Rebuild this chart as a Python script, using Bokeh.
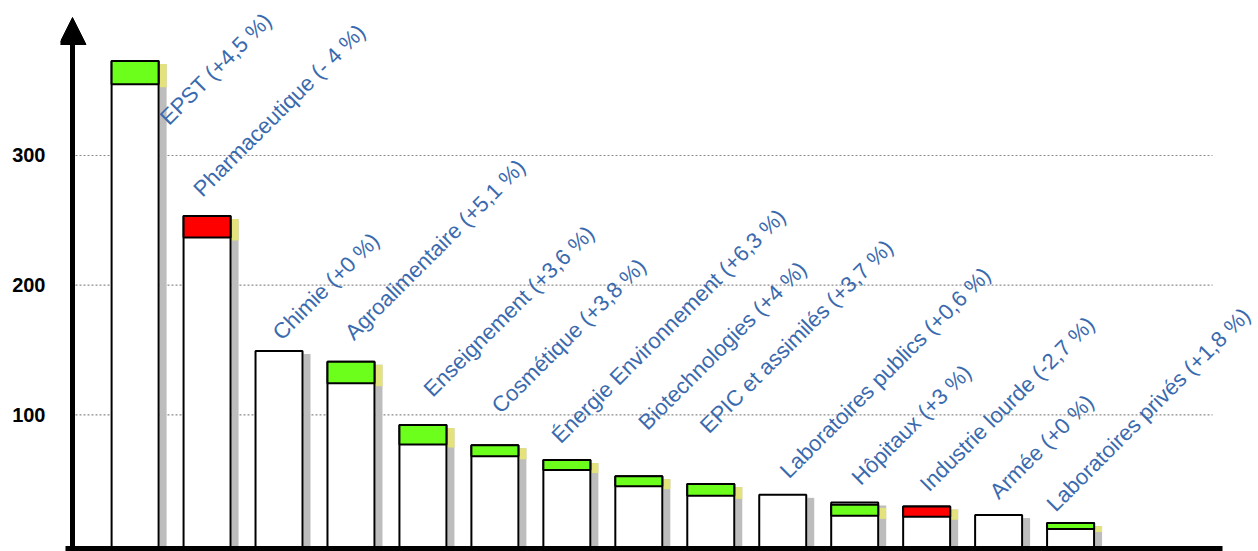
import math
from bokeh.plotting import figure
from bokeh.models import Range1d, FixedTicker, Arrow, NormalHead
from bokeh.embed import file_html
from bokeh.resources import INLINE
from bokeh.core.properties import value

# ---------------- data ----------------
categories = ["EPST", "Pharmaceutique", "Chimie", "Agroalimentaire", "Enseignement",
              "Cosmétique", "Énergie Environnement", "Biotechnologies", "EPIC et assimilés",
              "Laboratoires publics", "Hôpitaux", "Industrie lourde", "Armée",
              "Laboratoires privés"]
changes = ["+4,5 %", "- 4 %", "+0 %", "+5,1 %", "+3,6 %", "+3,8 %", "+6,3 %", "+4 %",
           "+3,7 %", "+0,6 %", "+3 %", "-2,7 %", "+0 %", "+1,8 %"]
totals = [372.9, 253.4, 149.3, 140.9, 92.1, 76.6, 65.1, 52.7, 46.6, 38.3, 32.4, 29.3, 22.7, 16.5]
seg_low = [355.0, 236.7, 149.3, 124.4, 77.1, 68.0, 57.4, 45.0, 37.5, 38.3, 22.1, 21.4, 22.7, 11.9]
seg_high = [372.9, 253.4, 149.3, 140.9, 92.1, 76.6, 65.1, 52.7, 46.6, 38.3, 30.6, 29.3, 22.7, 16.5]
trend = ["up", "down", "flat", "up", "up", "up", "up", "up", "up", "flat", "up", "down", "flat", "up"]
y_ticks = [100, 200, 300]

# label anchor placement (annotation layout, data units)
label_x = [0.399, 0.863, 1.965, 2.970, 4.063, 5.008, 5.842, 7.047, 7.903, 9.015, 10.011, 10.960, 11.929, 12.721]
label_y = [326.7, 271.4, 160.9, 160.9, 117.0, 104.4, 81.3, 91.5, 89.0, 54.3, 49.1, 44.0, 38.3, 28.5]

# ---------------- layout ----------------
W, H = 1258, 551
FL, FR, FT, FB = 60, 1258, 10, 551          # frame edges in page pixels
PXX = 71.96                                  # px per category step
CX0 = 134.6                                  # page x of first category centre
PXY = 1.2967                                 # px per y unit
ZY = 544.0                                   # page y of value 0
X0, X1 = (FL - CX0) / PXX, (FR - CX0) / PXX
Y0, Y1 = (ZY - FB) / PXY, (ZY - FT) / PXY


def dx(px):
    return (px - CX0) / PXX


def dy(py):
    return (ZY - py) / PXY


p = figure(width=W, height=H, output_backend="svg", toolbar_location=None,
           x_range=Range1d(X0, X1), y_range=Range1d(Y0, Y1),
           min_border_left=FL, min_border_right=W - FR, min_border_top=FT, min_border_bottom=H - FB)
p.outline_line_color = None
p.xaxis.visible = False
p.xgrid.visible = False
p.ygrid.visible = False
p.background_fill_color = "white"
p.border_fill_color = "white"

ax = p.yaxis[0]
ax.ticker = FixedTicker(ticks=y_ticks)
ax.axis_line_color = None
ax.major_tick_line_color = None
ax.minor_tick_line_color = None
ax.major_tick_out = 0
ax.major_tick_in = 0
ax.major_label_standoff = 15
ax.major_label_text_font = "Liberation Sans"
ax.major_label_text_font_size = "20px"
ax.major_label_text_font_style = "bold"
ax.major_label_text_color = "black"

# dotted grid lines
p.segment(x0=[dx(75)] * len(y_ticks), x1=[dx(1212)] * len(y_ticks), y0=y_ticks, y1=y_ticks,
          line_color="#8c8c8c", line_width=1.2, line_dash="2 2")

xs = list(range(len(categories)))
base = dy(547)                 # bars stand on the horizontal axis line
bw = 47 / PXX
sh_w = 7 / PXX
sh_gap = 1 / PXX
sh_drop = 3 / PXY

# shadows
p.quad(left=[x + bw / 2 + sh_gap for x in xs], right=[x + bw / 2 + sh_gap + sh_w for x in xs],
       bottom=[base] * len(xs), top=[t - sh_drop for t in totals],
       fill_color="#bdbdbd", line_color=None)
chg = [i for i in xs if trend[i] != "flat"]
p.quad(left=[xs[i] + bw / 2 + sh_gap for i in chg], right=[xs[i] + bw / 2 + sh_gap + sh_w for i in chg],
       bottom=[seg_low[i] - sh_drop for i in chg], top=[seg_high[i] - sh_drop for i in chg],
       fill_color="#e3e27c", line_color=None)

# white bars
p.quad(left=[x - bw / 2 for x in xs], right=[x + bw / 2 for x in xs],
       bottom=[base] * len(xs), top=totals,
       fill_color="white", line_color="black", line_width=2)

# change segments
colors = {"up": "#6cff1c", "down": "#ff0000"}
p.quad(left=[xs[i] - bw / 2 for i in chg], right=[xs[i] + bw / 2 for i in chg],
       bottom=[seg_low[i] for i in chg], top=[seg_high[i] for i in chg],
       fill_color=[colors[trend[i]] for i in chg], line_color="black", line_width=2)

# axis lines
p.segment(x0=[dx(65)], x1=[dx(1222)], y0=[dy(548)], y1=[dy(548)], line_color="black", line_width=5)
p.add_layout(Arrow(x_start=dx(72), y_start=dy(550), x_end=dx(72), y_end=dy(17),
                   line_color="black", line_width=5,
                   end=NormalHead(size=27, fill_color="black", line_color="black", line_width=1)))

# rotated labels
labels = [f"{c} ({ch})" for c, ch in zip(categories, changes)]
p.text(x=label_x, y=label_y, text=labels, angle=math.pi / 4,
       text_font=value("Liberation Sans"), text_font_size="22px",
       text_color="#3a6aae", text_align="left", text_baseline="alphabetic")

open("out.html", "w").write(file_html(p, INLINE))
